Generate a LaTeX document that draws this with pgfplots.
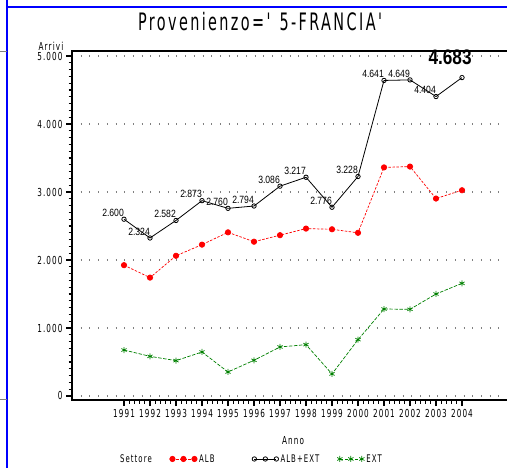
\documentclass[border=0pt]{standalone}
\usepackage{fontspec}
\usepackage{pgfplots}
\pgfplotsset{compat=1.18}
\newfontfamily\sas[FakeStretch=0.66,LetterSpace=10]{DejaVu Sans}
\newfontfamily\sastitle[FakeStretch=0.6,LetterSpace=10]{DejaVu Sans}
\newfontfamily\lab[FakeStretch=0.82]{Liberation Sans}
\definecolor{sasred}{RGB}{255,0,0}
\definecolor{sasgreen}{RGB}{0,128,0}
\definecolor{sasblue}{RGB}{0,0,255}
\begin{document}
\begin{tikzpicture}
\useasboundingbox (0,0) rectangle (507bp,468bp);
\draw[sasblue, line width=1.2bp] (7bp,0) -- (7bp,468bp);
\draw[sasblue, line width=1.2bp] (7bp,461bp) -- (507bp,461bp);
\draw[gray, line width=0.8bp] (0,417bp) -- (7bp,417bp);
\draw[gray, line width=0.8bp] (0,69bp) -- (7bp,69bp);
\node[font=\sastitle\fontsize{24bp}{26bp}\selectfont] at (260bp,446bp) {Provenienzo='\hspace{9bp}5-FRANCIA'};
\node[font=\sas\fontsize{11bp}{12bp}\selectfont] at (51bp,422bp) {Arrivi};
\node[font=\sas\fontsize{11bp}{12bp}\selectfont] at (293bp,27bp) {Anno};
\begin{axis}[
  at={(72bp,68bp)}, anchor=south west,
  width=440bp, height=349bp, scale only axis,
  xmin=1989, xmax=2005.923, ymin=-59, ymax=5074,
  axis line style={line width=1.2bp, black},
  xtick pos=bottom, ytick pos=left,
  xtick={1991,...,2004},
  extra x ticks={1991.2,1991.4,1991.6,1991.8,1992.2,1992.4,1992.6,1992.8,1993.2,1993.4,1993.6,1993.8,
    1994.2,1994.4,1994.6,1994.8,1995.2,1995.4,1995.6,1995.8,1996.2,1996.4,1996.6,1996.8,
    1997.2,1997.4,1997.6,1997.8,1998.2,1998.4,1998.6,1998.8,1999.2,1999.4,1999.6,1999.8,
    2000.2,2000.4,2000.6,2000.8,2001.2,2001.4,2001.6,2001.8,2002.2,2002.4,2002.6,2002.8,
    2003.2,2003.4,2003.6,2003.8},
  extra x tick labels={},
  extra x tick style={major tick length=3.5bp},
  ytick={0,1000,2000,3000,4000,5000},
  minor y tick num=9,
  major tick length=6bp, minor tick length=3.5bp,
  every major tick/.append style={draw=black, line width=1.1bp},
  every minor tick/.append style={draw=black, line width=1.1bp},
  tick align=outside,
  ymajorgrids,
  major grid style={gray, line width=1.1bp, dash pattern=on 1bp off 7.7bp},
  /pgf/number format/assume math mode=true,
  yticklabel style={font=\sas\fontsize{11bp}{12bp}\selectfont, /pgf/number format/1000 sep={.}},
  xticklabel style={font=\sas\fontsize{11bp}{12bp}\selectfont, /pgf/number format/1000 sep={}},
  clip=false,
  legend columns=-1,
  legend style={draw=none, fill=none, font=\sas\fontsize{10.5bp}{12bp}\selectfont,
    at={(0.1045,-0.169)}, anchor=west, inner sep=0pt,
    /tikz/every even column/.append style={column sep=16bp}},
  legend image code/.code={\draw[mark repeat=1,#1] plot coordinates {(0bp,0bp) (11bp,0bp) (22bp,0bp)};},
]
\addlegendimage{empty legend}
\addlegendentry{Settore}
\addplot[sasred, line width=0.7bp, dash pattern=on 2.5bp off 1.5bp, mark=*, mark size=2.7bp, mark options={solid}] coordinates {
 (1991,1924) (1992,1741) (1993,2062) (1994,2226) (1995,2407) (1996,2269) (1997,2365)
 (1998,2462) (1999,2452) (2000,2400) (2001,3362) (2002,3374) (2003,2904) (2004,3026)};
\addlegendentry{\makebox[35bp][l]{ALB}}
\addplot[black, line width=0.8bp, mark=o, mark size=2.2bp] coordinates {
 (1991,2600) (1992,2324) (1993,2582) (1994,2873) (1995,2760) (1996,2794) (1997,3086)
 (1998,3217) (1999,2776) (2000,3228) (2001,4641) (2002,4649) (2003,4404) (2004,4683)};
\addlegendentry{ALB+EXT}
\addplot[sasgreen, line width=0.7bp, dash pattern=on 3.5bp off 1.5bp, mark=asterisk, mark size=3bp, mark options={solid}] coordinates {
 (1991,676) (1992,583) (1993,520) (1994,647) (1995,353) (1996,525) (1997,721)
 (1998,755) (1999,324) (2000,828) (2001,1279) (2002,1275) (2003,1500) (2004,1657)};
\addlegendentry{EXT}
\addplot[draw=none, forget plot, nodes near coords, point meta=explicit symbolic,
  nodes near coords style={anchor=south east, font=\lab\fontsize{10.5bp}{11bp}\selectfont, inner xsep=0pt, inner ysep=2.5bp}]
 coordinates {
 (1991,2600) [2.600] (1992,2324) [2.324] (1993,2582) [2.582] (1994,2873) [2.873]
 (1995,2760) [2.760] (1996,2794) [2.794] (1997,3086) [3.086] (1998,3217) [3.217]
 (1999,2776) [2.776] (2000,3228) [3.228] (2001,4641) [4.641] (2002,4649) [4.649]
 (2003,4404) [4.404]};
\node[font=\lab\bfseries\fontsize{21bp}{22bp}\selectfont, inner sep=0pt] at (axis cs:2003.54,4975) {4.683};
\end{axis}
\end{tikzpicture}
\end{document}
